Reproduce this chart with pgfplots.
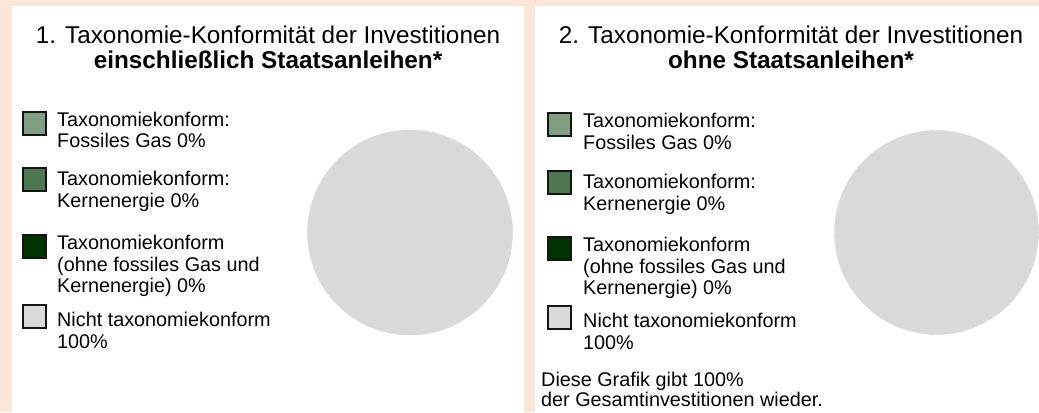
\documentclass[border=0pt]{standalone}
\usepackage{fontspec}
\setmainfont{Liberation Sans}
\usepackage{pgfplots}
\pgfplotsset{compat=1.18}
\definecolor{peach}{HTML}{FBE5D6}
\definecolor{pie}{HTML}{D9D9D9}
\definecolor{gA}{HTML}{809E81}
\definecolor{gB}{HTML}{4E7852}
\definecolor{gC}{HTML}{013301}
\definecolor{gD}{HTML}{D9D9D9}
\newcommand\lt[3]{\node[anchor=base west,inner sep=0pt] at (#1,#2) {\fontsize{19.8bp}{20bp}\selectfont #3};}
\newcommand\sq[4]{\draw[fill=#4,line width=2bp,draw=black!92] (#1+1,#2+1) rectangle (#1+24,#3-1);}
\begin{document}
\begin{tikzpicture}[x=1bp,y=1bp]
\useasboundingbox (0,0) rectangle (1039,412);
\begin{scope}[yshift=412bp,y=-1bp]
\fill[peach] (0,0) rectangle (1039,412);
\fill[white] (12,6) rectangle (524,412);
\fill[white] (535,6) rectangle (1039,412);
\end{scope}
% pies
\begin{axis}[at={(0,0)},anchor=south west,x=1bp,y=1bp,
  xmin=0,xmax=1039,ymin=0,ymax=412,hide axis,clip=false]
  % Nicht taxonomiekonform 100% -> full disc
  \addplot[only marks,mark=*,mark size=102.5bp,color=pie] coordinates {(410,179.5)};
  \addplot[only marks,mark=*,mark size=102bp,color=pie] coordinates {(936.5,179.5)};
\end{axis}
\begin{scope}[yshift=412bp,y=-1bp]
% titles
\node[anchor=base,inner sep=0pt] at (268,44) {\fontsize{24.3bp}{24bp}\selectfont 1. Taxonomie-Konformität der Investitionen};
\node[anchor=base,inner sep=0pt] at (268,69) {\fontsize{24.3bp}{24bp}\selectfont\bfseries einschließlich Staatsanleihen*};
\node[anchor=base,inner sep=0pt] at (791,44) {\fontsize{24.3bp}{24bp}\selectfont 2. Taxonomie-Konformität der Investitionen};
\node[anchor=base,inner sep=0pt] at (791,69) {\fontsize{24.3bp}{24bp}\selectfont\bfseries ohne Staatsanleihen*};
% left legend
\sq{22}{111}{136}{gA}
\lt{57}{126.5}{Taxonomiekonform:}
\lt{57}{148}{Fossiles Gas 0\%}
\sq{22}{167}{192}{gB}
\lt{57}{186}{Taxonomiekonform:}
\lt{57}{207.5}{Kernenergie 0\%}
\sq{22}{234}{259}{gC}
\lt{57}{250}{Taxonomiekonform}
\lt{57}{271.5}{(ohne fossiles Gas und}
\lt{57}{293}{Kernenergie) 0\%}
\sq{22}{304}{329}{gD}
\lt{57}{327}{Nicht taxonomiekonform}
\lt{57}{348.5}{100\%}
% right legend
\sq{547}{112}{137}{gA}
\lt{583}{128}{Taxonomiekonform:}
\lt{583}{149.5}{Fossiles Gas 0\%}
\sq{547}{170}{195}{gB}
\lt{583}{189}{Taxonomiekonform:}
\lt{583}{210.5}{Kernenergie 0\%}
\sq{547}{236}{261}{gC}
\lt{583}{252}{Taxonomiekonform}
\lt{583}{273.5}{(ohne fossiles Gas und}
\lt{583}{295}{Kernenergie) 0\%}
\sq{547}{305}{330}{gD}
\lt{583}{328}{Nicht taxonomiekonform}
\lt{583}{349.5}{100\%}
\lt{541}{386.5}{Diese Grafik gibt 100\%}
\lt{541}{407}{der Gesamtinvestitionen wieder.}
\end{scope}
\end{tikzpicture}
\end{document}
